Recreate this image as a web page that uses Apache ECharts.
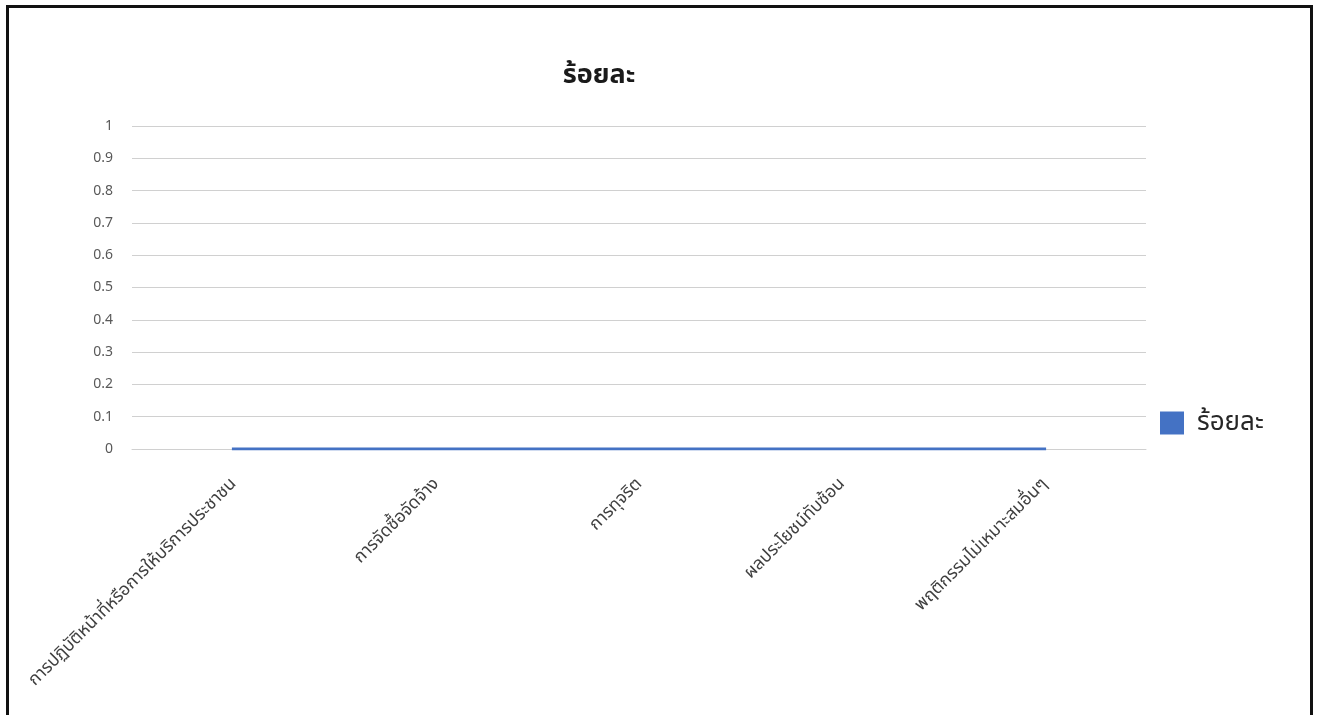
<!DOCTYPE html>
<html>
<head>
<meta charset="utf-8">
<script src="https://cdn.jsdelivr.net/npm/echarts@6/dist/echarts.min.js"></script>
<style>
  html, body { margin: 0; padding: 0; background: #ffffff; overflow: hidden; }
  #frame { position: absolute; left: 6px; top: 5px; width: 1307px; height: 760px;
           border: 3px solid #111; border-bottom: none; box-sizing: border-box; }
  #chart { position: absolute; left: 0; top: 0; width: 1320px; height: 715px; }
</style>
</head>
<body>
<div id="frame"></div>
<div id="chart"></div>
<script>
const titleText = 'ร้อยละ';
const seriesName = 'ร้อยละ';
const categories = [
  'การปฏิบัติหน้าที่หรือการให้บริการประชาชน',
  'การจัดซื้อจัดจ้าง',
  'การทุจริต',
  'ผลประโยชน์ทับซ้อน',
  'พฤติกรรมไม่เหมาะสมอื่นๆ'
];
const values = [0, 0, 0, 0, 0];
const yMin = 0, yMax = 1, yStep = 0.1;

const font = '"Noto Sans", "Noto Sans Thai", "DejaVu Sans", sans-serif';
const chart = echarts.init(document.getElementById('chart'), null, { renderer: 'canvas' });
chart.setOption({
  backgroundColor: 'transparent',
  animation: false,
  title: {
    text: titleText,
    left: 594, top: 57, textAlign: 'center',
    textStyle: { fontFamily: font, fontSize: 27, fontWeight: 'bold', color: '#1a1a1a' }
  },
  legend: {
    data: [{ name: seriesName, icon: 'rect' }],
    orient: 'vertical',
    left: 1155, top: 405,
    itemWidth: 24, itemHeight: 23, itemGap: 10,
    textStyle: { fontFamily: font, fontSize: 26, color: '#262626', padding: [0, 0, 0, 8] }
  },
  grid: { left: 132, right: 174, top: 126, bottom: 266, containLabel: false },
  xAxis: {
    type: 'category',
    data: categories,
    boundaryGap: true,
    axisLine: { show: true, lineStyle: { color: '#d0d0d0', width: 1 } },
    axisTick: { show: false },
    axisLabel: {
      rotate: 45, interval: 0, margin: 32,
      fontFamily: font, fontSize: 17.5, color: '#404040'
    }
  },
  yAxis: {
    type: 'value',
    min: yMin, max: yMax, interval: yStep,
    axisLine: { show: false },
    axisTick: { show: false },
    splitLine: { lineStyle: { color: '#d0d0d0', width: 1 } },
    axisLabel: {
      margin: 19, fontFamily: font, fontSize: 14, color: '#595959',
      formatter: v => String(Math.round(v * 10) / 10)
    }
  },
  series: [{
    name: seriesName,
    type: 'line',
    data: values,
    showSymbol: false,
    symbol: 'none',
    lineStyle: { color: '#4472C4', width: 3, cap: 'square' },
    itemStyle: { color: '#4472C4' },
    areaStyle: { color: '#4472C4', opacity: 1 }
  }]
});
</script>
</body>
</html>
